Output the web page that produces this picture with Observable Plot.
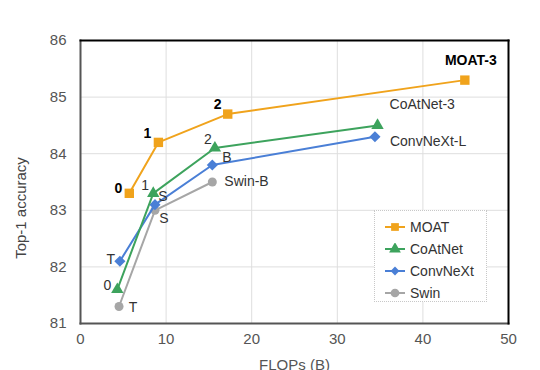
<!DOCTYPE html>
<html><head><meta charset="utf-8">
<script src="https://cdn.jsdelivr.net/npm/d3@7"></script>
<script src="https://cdn.jsdelivr.net/npm/@observablehq/plot@0.6"></script>
<style>
body{margin:0;background:#fff;font-family:"Liberation Sans",Arial,sans-serif;}
#wrap{position:relative;width:540px;height:370px;overflow:hidden;}
#legend{position:absolute;left:374px;top:210px;width:113px;height:92px;border:1px dotted #c8c8c8;background:#fff;font-size:14px;color:#333;box-sizing:border-box;padding-top:5px;}
#legend div{height:22px;display:flex;align-items:center;}
#legend svg{margin-left:10px;margin-right:5px;}
#ylab{position:absolute;left:20px;top:208px;transform:translate(-50%,-50%) rotate(-90deg);white-space:nowrap;font-size:15px;color:#444;}
</style></head>
<body><div id="wrap"><div id="chart"></div><div id="legend"></div><div id="ylab">Top-1 accuracy</div></div>
<script>
const series = ["MOAT", "CoAtNet", "ConvNeXt", "Swin"];
const moatFlops = [5.7, 9.1, 17.2, 44.9];
const moatAcc = [83.3, 84.2, 84.7, 85.3];
const moatLabels = ["0", "1", "2", "MOAT-3"];
const coatFlops = [4.3, 8.5, 15.7, 34.7];
const coatAcc = [81.6, 83.3, 84.1, 84.5];
const coatLabels = ["0", "1", "2", "CoAtNet-3"];
const convFlops = [4.6, 8.7, 15.4, 34.4];
const convAcc = [82.1, 83.1, 83.8, 84.3];
const convLabels = ["T", "S", "B", "ConvNeXt-L"];
const swinFlops = [4.5, 8.7, 15.4];
const swinAcc = [81.3, 83.0, 83.5];
const swinLabels = ["T", "S", "Swin-B"];
const xTicks = [0, 10, 20, 30, 40, 50];
const yTicks = [81, 82, 83, 84, 85, 86];

const style = {
  MOAT: {color: "#F0A31C", symbol: "square", r: 5.3, weight: "bold",
    off: [[-11,-5,"middle"],[-11,-9,"middle"],[-10,-10,"middle"],[6,-20,"middle"]]},
  CoAtNet: {color: "#3DA35D", symbol: "triangle", r: 4.6, weight: "normal",
    off: [[-10,-4,"middle"],[-8,-8,"middle"],[-7,-9,"middle"],[12,-21,"start"]]},
  ConvNeXt: {color: "#4A7FD6", symbol: "diamond2", r: 5, weight: "normal",
    off: [[-9,-2,"middle"],[8,-8,"middle"],[10,-8,"start"],[15,5,"start"]]},
  Swin: {color: "#A6A6A6", symbol: "circle", r: 4.5, weight: "normal",
    off: [[14,1,"middle"],[9,8,"middle"],[12,0,"start"]]}
};
const raw = {
  MOAT: [moatFlops, moatAcc, moatLabels],
  CoAtNet: [coatFlops, coatAcc, coatLabels],
  ConvNeXt: [convFlops, convAcc, convLabels],
  Swin: [swinFlops, swinAcc, swinLabels]
};
const marks = [
  Plot.ruleX(xTicks, {stroke: "#dedede", strokeWidth: 1}),
  Plot.ruleY(yTicks, {stroke: "#dedede", strokeWidth: 1}),
  Plot.axisX(xTicks, {tickSize: 0, tickPadding: 10, fontSize: 15, fill: "#555", tickFormat: d3.format("d"), label: "FLOPs (B)", labelAnchor: "center", labelOffset: 46, labelArrow: "none"}),
  Plot.axisY(yTicks, {tickSize: 0, tickPadding: 14, fontSize: 15, fill: "#555", tickFormat: d3.format("d"), label: null})
];
for (const s of ["Swin", "ConvNeXt", "CoAtNet", "MOAT"]) {
  const [xs, ys, ls] = raw[s];
  const st = style[s];
  const data = xs.map((x, i) => ({x, y: ys[i], label: ls[i], i}));
  marks.push(Plot.line(data, {x: "x", y: "y", stroke: st.color, strokeWidth: 2}));
  marks.push(Plot.dot(data, {x: "x", y: "y", fill: st.color, symbol: () => st.symbol, r: st.r, stroke: "none"}));
  data.forEach((d, i) => {
    const [dx, dy, anchor] = st.off[i];
    marks.push(Plot.text([d], {x: "x", y: "y", text: "label", dx, dy, textAnchor: anchor, fontSize: 14, fontWeight: st.weight, fill: st.weight === "bold" ? "#000" : "#333"}));
  });
}
marks.push(Plot.frame({anchor: "left", stroke: "#555", strokeWidth: 2}));
marks.push(Plot.frame({anchor: "bottom", stroke: "#555", strokeWidth: 2}));
marks.push(Plot.frame({anchor: "top", stroke: "#000", strokeWidth: 2}));
marks.push(Plot.frame({anchor: "right", stroke: "#000", strokeWidth: 2}));
const chart = Plot.plot({
  width: 540, height: 370,
  marginLeft: 80, marginRight: 32, marginTop: 40, marginBottom: 47,
  style: {fontFamily: "Liberation Sans, Arial, sans-serif", fontSize: "15px", color: "#444", background: "#fff"},
  x: {domain: [0, 50]},
  y: {domain: [81, 86]},
  symbol: {type: "identity"},
  marks
});
document.getElementById("chart").appendChild(chart);
const lg = document.getElementById("legend");
for (const s of series) {
  const st = style[s];
  const row = document.createElement("div");
  const sym = d3.symbol(st.symbol === "square" ? d3.symbolSquare : st.symbol === "triangle" ? d3.symbolTriangle : st.symbol === "diamond2" ? d3.symbolDiamond2 : d3.symbolCircle, st.symbol === "diamond2" ? 50 : 60)();
  row.innerHTML = `<svg width="20" height="12"><line x1="0" x2="20" y1="6" y2="6" stroke="${st.color}" stroke-width="2"/><path transform="translate(10,6)" d="${sym}" fill="${st.color}"/></svg><span>${s}</span>`;
  lg.appendChild(row);
}
</script></body></html>
